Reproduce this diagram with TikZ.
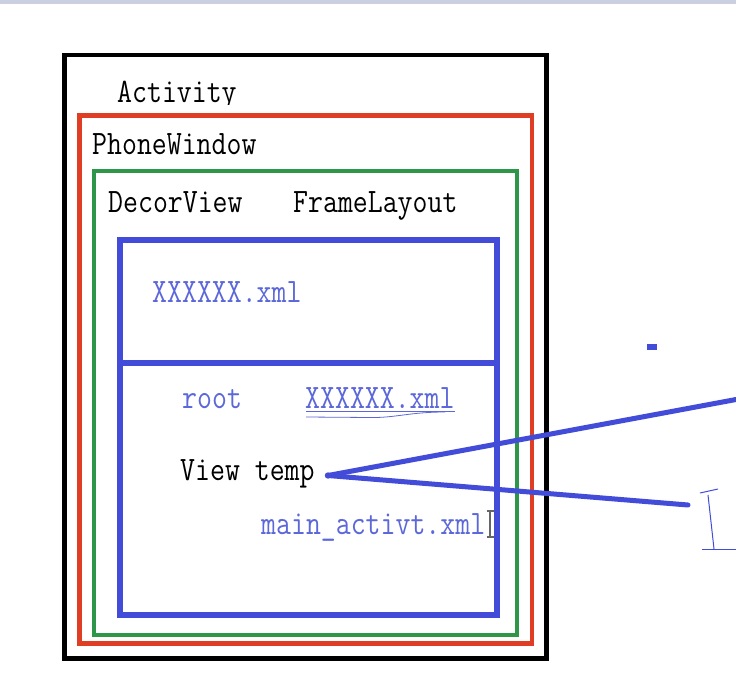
\documentclass[tikz,border=0pt]{standalone}
\usepackage{graphicx}
\definecolor{actblack}{RGB}{0,0,0}
\definecolor{winred}{RGB}{224,62,36}
\definecolor{decgreen}{RGB}{46,150,72}
\definecolor{boxblue}{RGB}{66,76,216}
\definecolor{txtblue}{RGB}{92,104,218}
\definecolor{topbar}{RGB}{202,208,224}
\newcommand\talltext[1]{\scalebox{1}[1.18]{#1}}
\tikzset{
  lbl/.style={anchor=base west, inner sep=0pt, font=\fontsize{29}{29}\selectfont\ttfamily},
  thickln/.style={boxblue, line width=5pt, line cap=round},
  thinln/.style={boxblue, line width=1pt},
}
\begin{document}
\begin{tikzpicture}[x=1pt,y=-1pt]
\useasboundingbox (0,0) rectangle (736,687);
\fill[white] (0,0) rectangle (736,687);
\fill[topbar] (0,0) rectangle (736,4);
% frames
\draw[actblack, line width=4.5pt] (64.5,55) rectangle (546.5,658.5);
\draw[winred, line width=4.5pt] (79.5,115.5) rectangle (532,643.5);
\draw[decgreen, line width=4pt] (94,171.5) rectangle (517,634.5);
\draw[boxblue, line width=6pt] (120,240) rectangle (496.5,615);
\draw[boxblue, line width=6pt] (120,362.5) -- (496.5,362.5);
% labels
\begin{scope}
\clip (100,70) rectangle (300,104.5);
\node[lbl] (act) at (117,103) {\talltext{Activity}};
\end{scope}
\node[lbl] (pw) at (92,155) {\talltext{PhoneWindow}};
\node[lbl] (dv) at (108,212) {\talltext{DecorView}};
\node[lbl] (fl) at (293,212) {\talltext{FrameLayout}};
\node[lbl, text=txtblue] (x1) at (152,302) {\talltext{XXXXXX.xml}};
\node[lbl, text=txtblue] (root) at (182,408) {\talltext{root}};
\node[lbl, text=txtblue] (x2) at (305,408) {\talltext{XXXXXX.xml}};
\node[lbl] (vt) at (180,480) {\talltext{View temp}};
\node[lbl, text=txtblue] (ma) at (261,534) {\talltext{main\_activt.xml}};
% underline of x2
\draw[txtblue, line width=0.8pt] (306,411.5) -- (455,411.5);
\draw[txtblue, line width=0.8pt] (306,417) -- (370,417.5) .. controls (395,418) and (410,412) .. (445,412);
% text cursor
\draw[black!60, line width=1.2pt] (490,511) -- (490,537) (486.5,511) -- (493.5,511) (486.5,537) -- (493.5,537);
% connectors
\coordinate (dot) at (328,475.5);
\coordinate (e1) at (736,399.5);
\coordinate (e2) at (688,505);
\fill[boxblue] (dot) circle (3.2pt);
\draw[thickln] (dot) -- (e1);
\draw[thickln] (dot) -- (e2);
% small marks on the right
\fill[boxblue] (647,344) rectangle (657,350);
\coordinate (t1) at (700,493);
\coordinate (t2) at (718,489);
\coordinate (v1) at (708,495);
\coordinate (v2) at (714,549);
\coordinate (b1) at (702,549.5);
\coordinate (b2) at (736,549.5);
\draw[thinln] (t1) -- (t2);
\draw[thinln] (v1) -- (v2);
\draw[thinln] (b1) -- (b2);
\end{tikzpicture}
\end{document}
